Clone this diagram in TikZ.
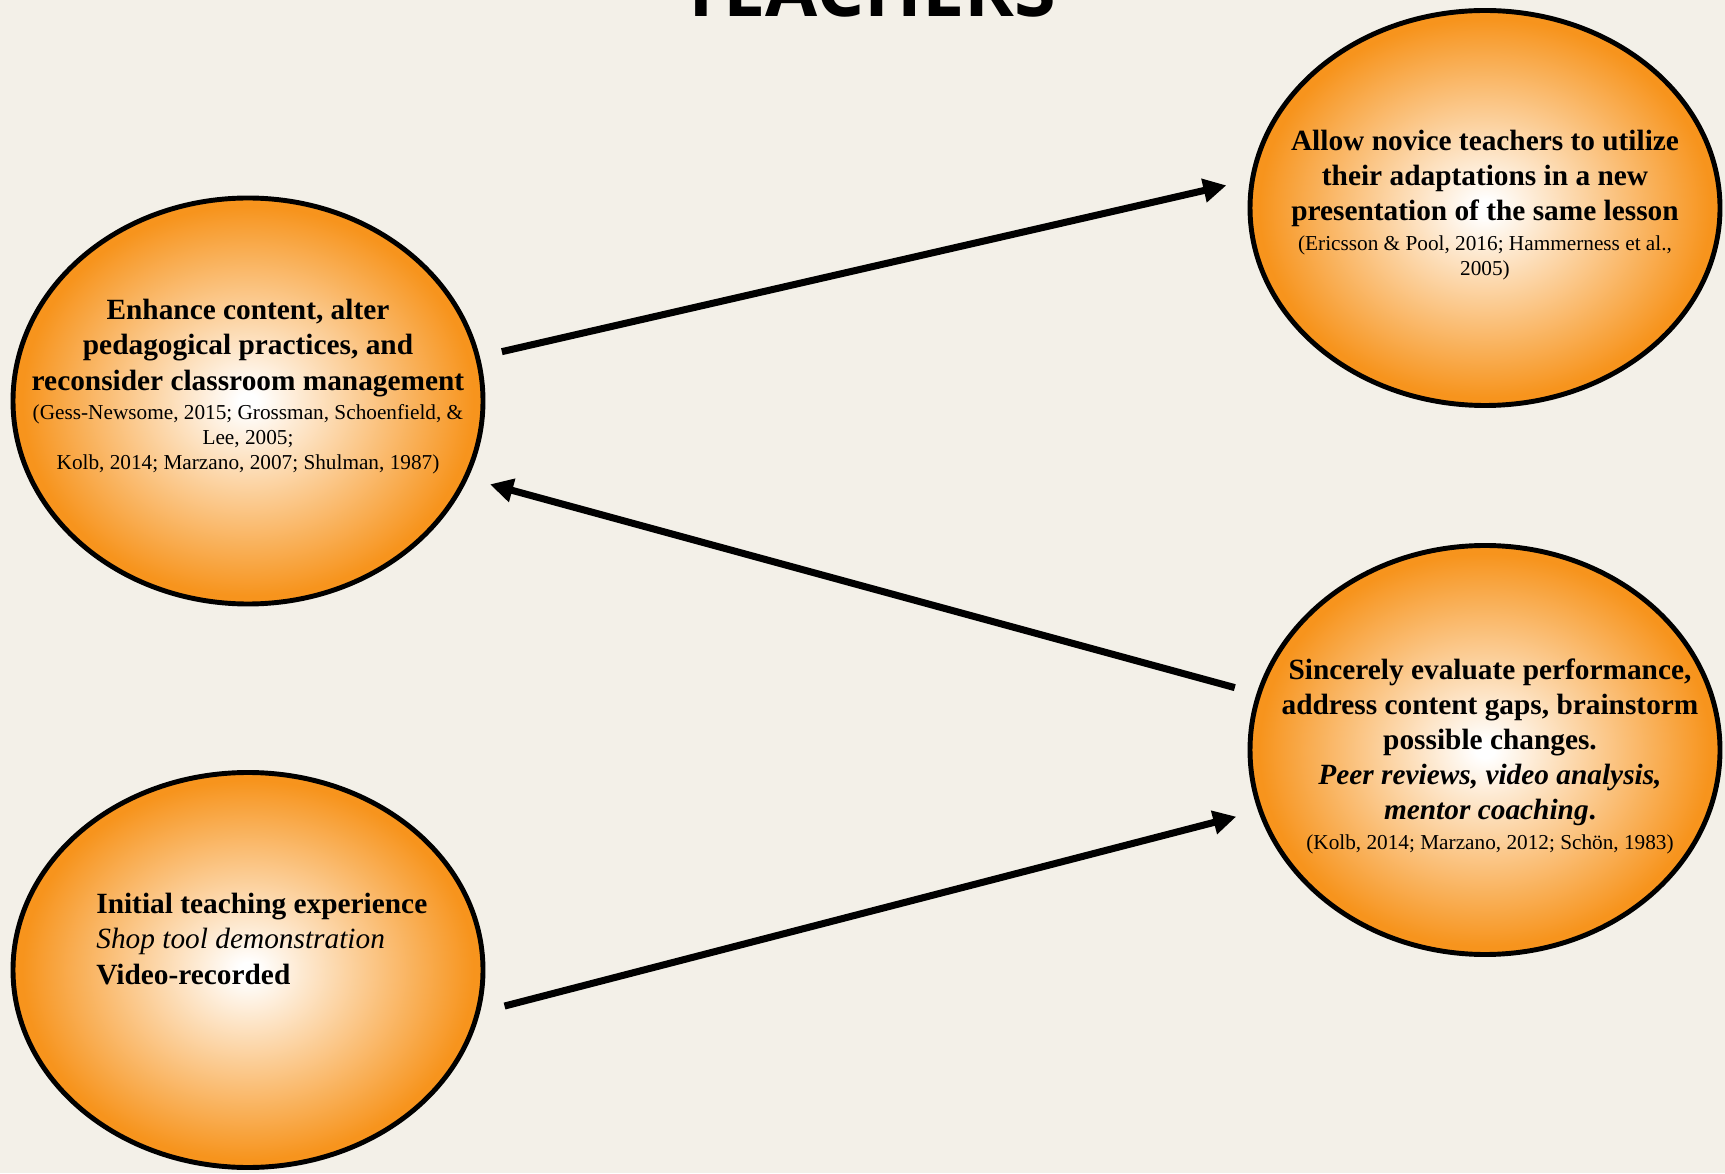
\documentclass[tikz,border=0pt]{standalone}
\usepackage{fontspec}
\setmainfont{Liberation Serif}
\newfontfamily\titlefont{Open Sans}
\usetikzlibrary{arrows.meta,shapes.geometric}

\definecolor{paper}{RGB}{243,240,232}
\definecolor{tangerine}{RGB}{247,148,29}
\pgfdeclareradialshading{glow}{\pgfpoint{0bp}{0bp}}{color(0bp)=(white); color(1bp)=(white); color(24bp)=(tangerine); color(50bp)=(tangerine)}
\newcommand{\refsz}{\fontsize{12.1}{14.2}\selectfont\mdseries}

\tikzset{
  bubble/.style={ellipse, draw=black, line width=2.8pt, shading=glow,
    minimum width=9.4cm, minimum height=7.9cm, inner sep=0pt, outer sep=0.5cm},
  bubbletext/.style={align=center, inner sep=0pt,
    font=\fontsize{16.7}{20}\selectfont\bfseries},
  titletext/.style={anchor=base, inner sep=0pt,
    font=\titlefont\bfseries\fontsize{43}{50}\selectfont},
  arrow/.style={->, line width=4pt}
}

\begin{document}
\begin{tikzpicture}[>={Triangle[length=0.46cm,width=0.46cm]}]

\useasboundingbox (0,0) rectangle (34.5,23.46);
\fill[paper] (0,0) rectangle (34.5,23.46);

\node[titletext] (title) at (17.36,23.12) {TEACHERS};

\node[bubble, minimum height=8.12cm] (adapt) at (4.96,15.44) {};
\node[bubble] (reteach) at (29.7,19.3) {};
\node[bubble, minimum height=8.18cm] (reflect) at (29.7,8.46) {};
\node[bubble] (teach) at (4.96,4.06) {};

\node[bubbletext, anchor=north] (adapttext) at ([yshift=2.04cm]adapt.center)
  {Enhance content, alter\\
   pedagogical practices, and\\
   reconsider classroom management\\[-3pt]
   {\refsz (Gess-Newsome, 2015; Grossman, Schoenfield, \&}\\[-5.8pt]
   {\refsz Lee, 2005;}\\[-5.8pt]
   {\refsz Kolb, 2014; Marzano, 2007; Shulman, 1987)}};

\node[bubbletext, anchor=north] (reteachtext) at ([yshift=1.56cm]reteach.center)
  {Allow novice teachers to utilize\\
   their adaptations in a new\\
   presentation of the same lesson\\[-3pt]
   {\refsz (Ericsson \& Pool, 2016; Hammerness et al.,}\\[-5.8pt]
   {\refsz 2005)}};

\node[bubbletext, anchor=north] (reflecttext) at ([xshift=0.1cm,yshift=1.84cm]reflect.center)
  {Sincerely evaluate performance,\\
   address content gaps, brainstorm\\
   possible changes.\\
   {\itshape Peer reviews, video analysis,}\\
   {\itshape mentor coaching}.\\[-3pt]
   {\refsz (Kolb, 2014; Marzano, 2012; Schön, 1983)}};

\node[bubbletext, align=left, anchor=north west] (teachtext) at ([xshift=-3.04cm,yshift=1.54cm]teach.center)
  {Initial teaching experience\\
   {\mdseries\itshape Shop tool demonstration}\\
   Video-recorded};

\draw[arrow] (adapt.11) -- (reteach.175);
\draw[arrow] (reflect.166) -- (adapt.-19);
\draw[arrow] (teach.-8) -- (reflect.195);

\end{tikzpicture}
\end{document}
